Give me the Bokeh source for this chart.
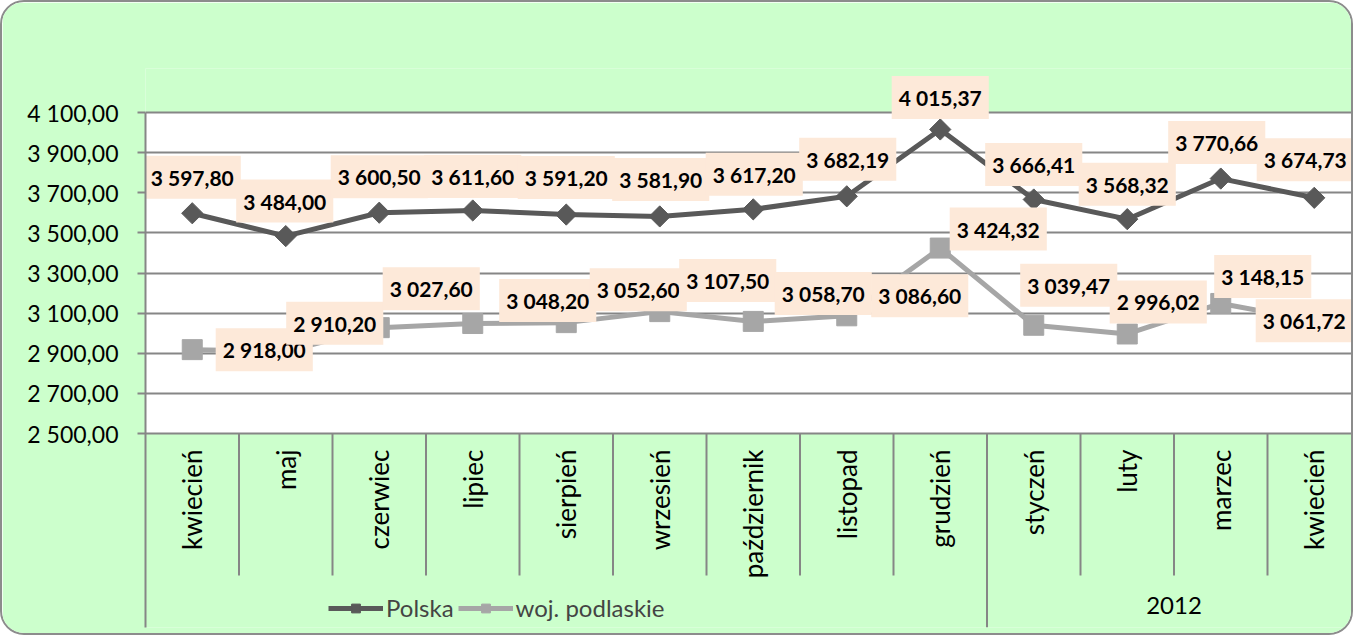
import numpy as np
from bokeh.plotting import figure
from bokeh.models import (Range1d, FixedTicker, BoxAnnotation, ColumnDataSource,
                          Legend, LegendItem)
from bokeh.core.properties import value
from bokeh.embed import file_html
from bokeh.resources import INLINE

# ---------------- data ----------------
months = ["kwiecień", "maj", "czerwiec", "lipiec", "sierpień", "wrzesień",
          "październik", "listopad", "grudzień", "styczeń", "luty", "marzec", "kwiecień"]
year_label = "2012"
year_start = 9          # index of first month of 2012
polska = [3597.80, 3484.00, 3600.50, 3611.60, 3591.20, 3581.90, 3617.20,
          3682.19, 4015.37, 3666.41, 3568.32, 3770.66, 3674.73]
podlaskie = [2918.00, 2910.20, 3027.60, 3048.20, 3052.60, 3107.50, 3058.70,
             3086.60, 3424.32, 3039.47, 2996.02, 3148.15, 3061.72]
y_ticks = [2500, 2700, 2900, 3100, 3300, 3500, 3700, 3900, 4100]

# label offsets in screen pixels (dx right, dy up)
polska_dx = [0, -1, 0, 0, 0, 1, 1, 1, 0, 0, 0, -4, -9]
polska_dy = [36, 35, 36, 34, 37, 37, 35, 37, 32, 35, 35, 36, 38]
podl_dx = [72, 49, 52, 75, 72, 68, 70, 73, 58, 35, 31, 42, -10]
podl_dy = [0, 28, 39, 23, 33, 31, 28, 20, 19, 40, 32, 27, 0]
# drawing order of the Polska labels (later ones lie on top)
polska_order = [0, 1, 2, 3, 4, 5, 6, 7, 8, 9, 10, 12, 11]

# ---------------- helpers ----------------
def fmt(v):
    return f"{v:,.2f}".replace(",", " ").replace(".", ",")

PX_PER_UNIT = 321 / 1600.0          # vertical scale of the value axis
def y_at(page_y):                   # value at a page pixel row
    return 2500 - (page_y - 433) / PX_PER_UNIT

BORDER = 2                          # css border of the chart box
CAT_W = 93.5
W, H = 1353, 635
FRAME_LEFT = 145 - BORDER
FRAME_TOP = 68 - BORDER
FRAME_BOTTOM = 627 - BORDER

GREEN = "#CCFFCC"
GRID = "#868686"
DARK = "#595959"
LIGHT = "#A6A6A6"
LABEL_BG = "#FDE9D9"
FONT = "Lato"

n = len(months)
xs = [i + 0.5 for i in range(n)]

p = figure(width=W, height=H, output_backend="svg", toolbar_location=None,
           x_range=Range1d(0, (W - FRAME_LEFT) / CAT_W),
           y_range=Range1d(y_at(FRAME_BOTTOM + BORDER), y_at(FRAME_TOP + BORDER)),
           x_axis_location=None, min_border_left=FRAME_LEFT, min_border_right=0,
           min_border_top=FRAME_TOP, min_border_bottom=H - FRAME_BOTTOM)
p.background_fill_color = GREEN
p.border_fill_color = GREEN
p.outline_line_color = None
p.styles = {"border": f"{BORDER}px solid #8c8c8c", "border-radius": "24px",
            "overflow": "hidden", "box-sizing": "border-box"}

# white plotting area
p.add_layout(BoxAnnotation(bottom=y_ticks[0], top=y_ticks[-1], fill_color="white",
                           fill_alpha=1, line_color=None, level="image"))

# y axis
ax = p.yaxis[0]
ax.ticker = FixedTicker(ticks=y_ticks)
ax.major_label_overrides = {t: fmt(t) for t in y_ticks}
ax.bounds = (y_at(FRAME_BOTTOM + BORDER), y_ticks[-1])
ax.axis_line_color = GRID
ax.axis_line_width = 2
ax.major_tick_line_color = GRID
ax.major_tick_line_width = 2
ax.major_tick_out = 8
ax.major_tick_in = 0
ax.minor_tick_line_color = None
ax.major_label_standoff = 19
ax.major_label_text_font = FONT
ax.major_label_text_font_size = "23px"
ax.major_label_text_color = "black"

p.xgrid.visible = False
p.ygrid.ticker = FixedTicker(ticks=y_ticks)
p.ygrid.grid_line_color = GRID
p.ygrid.grid_line_width = 2

# category separators
sep_x = list(range(1, n))
sep_y1 = [y_at(FRAME_BOTTOM + BORDER) if b == year_start else y_at(575) for b in sep_x]
p.segment(x0=sep_x, x1=sep_x, y0=[y_ticks[0]] * len(sep_x), y1=sep_y1,
          line_color=GRID, line_width=2)

# series
g_line = p.line(xs, podlaskie, line_color=LIGHT, line_width=5)
g_mark = p.scatter(xs, podlaskie, marker="square", size=20,
                   fill_color=LIGHT, line_color=LIGHT)
pl_line = p.line(xs, polska, line_color=DARK, line_width=5)
pl_mark = p.scatter(xs, polska, marker="square", angle=np.pi / 4, size=15,
                    fill_color=DARK, line_color=DARK)

# data labels
src_pl = ColumnDataSource(dict(x=[xs[i] for i in polska_order],
                               y=[polska[i] for i in polska_order],
                               t=[fmt(polska[i]) for i in polska_order],
                               dx=[polska_dx[i] for i in polska_order],
                               dy=[-polska_dy[i] for i in polska_order]))
src_g = ColumnDataSource(dict(x=xs, y=podlaskie, t=[fmt(v) for v in podlaskie],
                              dx=podl_dx, dy=[-d for d in podl_dy]))
for src in (src_pl, src_g):
    p.text(x="x", y="y", text="t", x_offset="dx", y_offset="dy", source=src,
           text_font=value(FONT), text_font_style="bold", text_font_size="21px",
           text_color="black", text_align="center", text_baseline="middle",
           background_fill_color=LABEL_BG, padding=(7, 9))

# category labels
p.text(x=xs, y=[y_at(449)] * n, text=months, angle=np.pi / 2,
       text_font=value(FONT), text_font_size="26px", text_color="black",
       text_align="right", text_baseline="middle")
p.text(x=[year_start + (n - year_start) / 2], y=[y_at(605)], text=[year_label],
       text_font=value(FONT), text_font_size="24px", text_color="black",
       text_align="center", text_baseline="middle")

legend = Legend(items=[LegendItem(label="Polska", renderers=[pl_line, pl_mark]),
                       LegendItem(label="woj. podlaskie", renderers=[g_line, g_mark])],
                orientation="horizontal", location=(183, 5),
                background_fill_alpha=0, border_line_alpha=0,
                label_text_font=FONT, label_text_font_size="24px",
                glyph_width=55, glyph_height=22, padding=0, margin=0,
                spacing=4, label_standoff=3)
p.add_layout(legend)

open("out.html", "w").write(file_html(p, INLINE))
